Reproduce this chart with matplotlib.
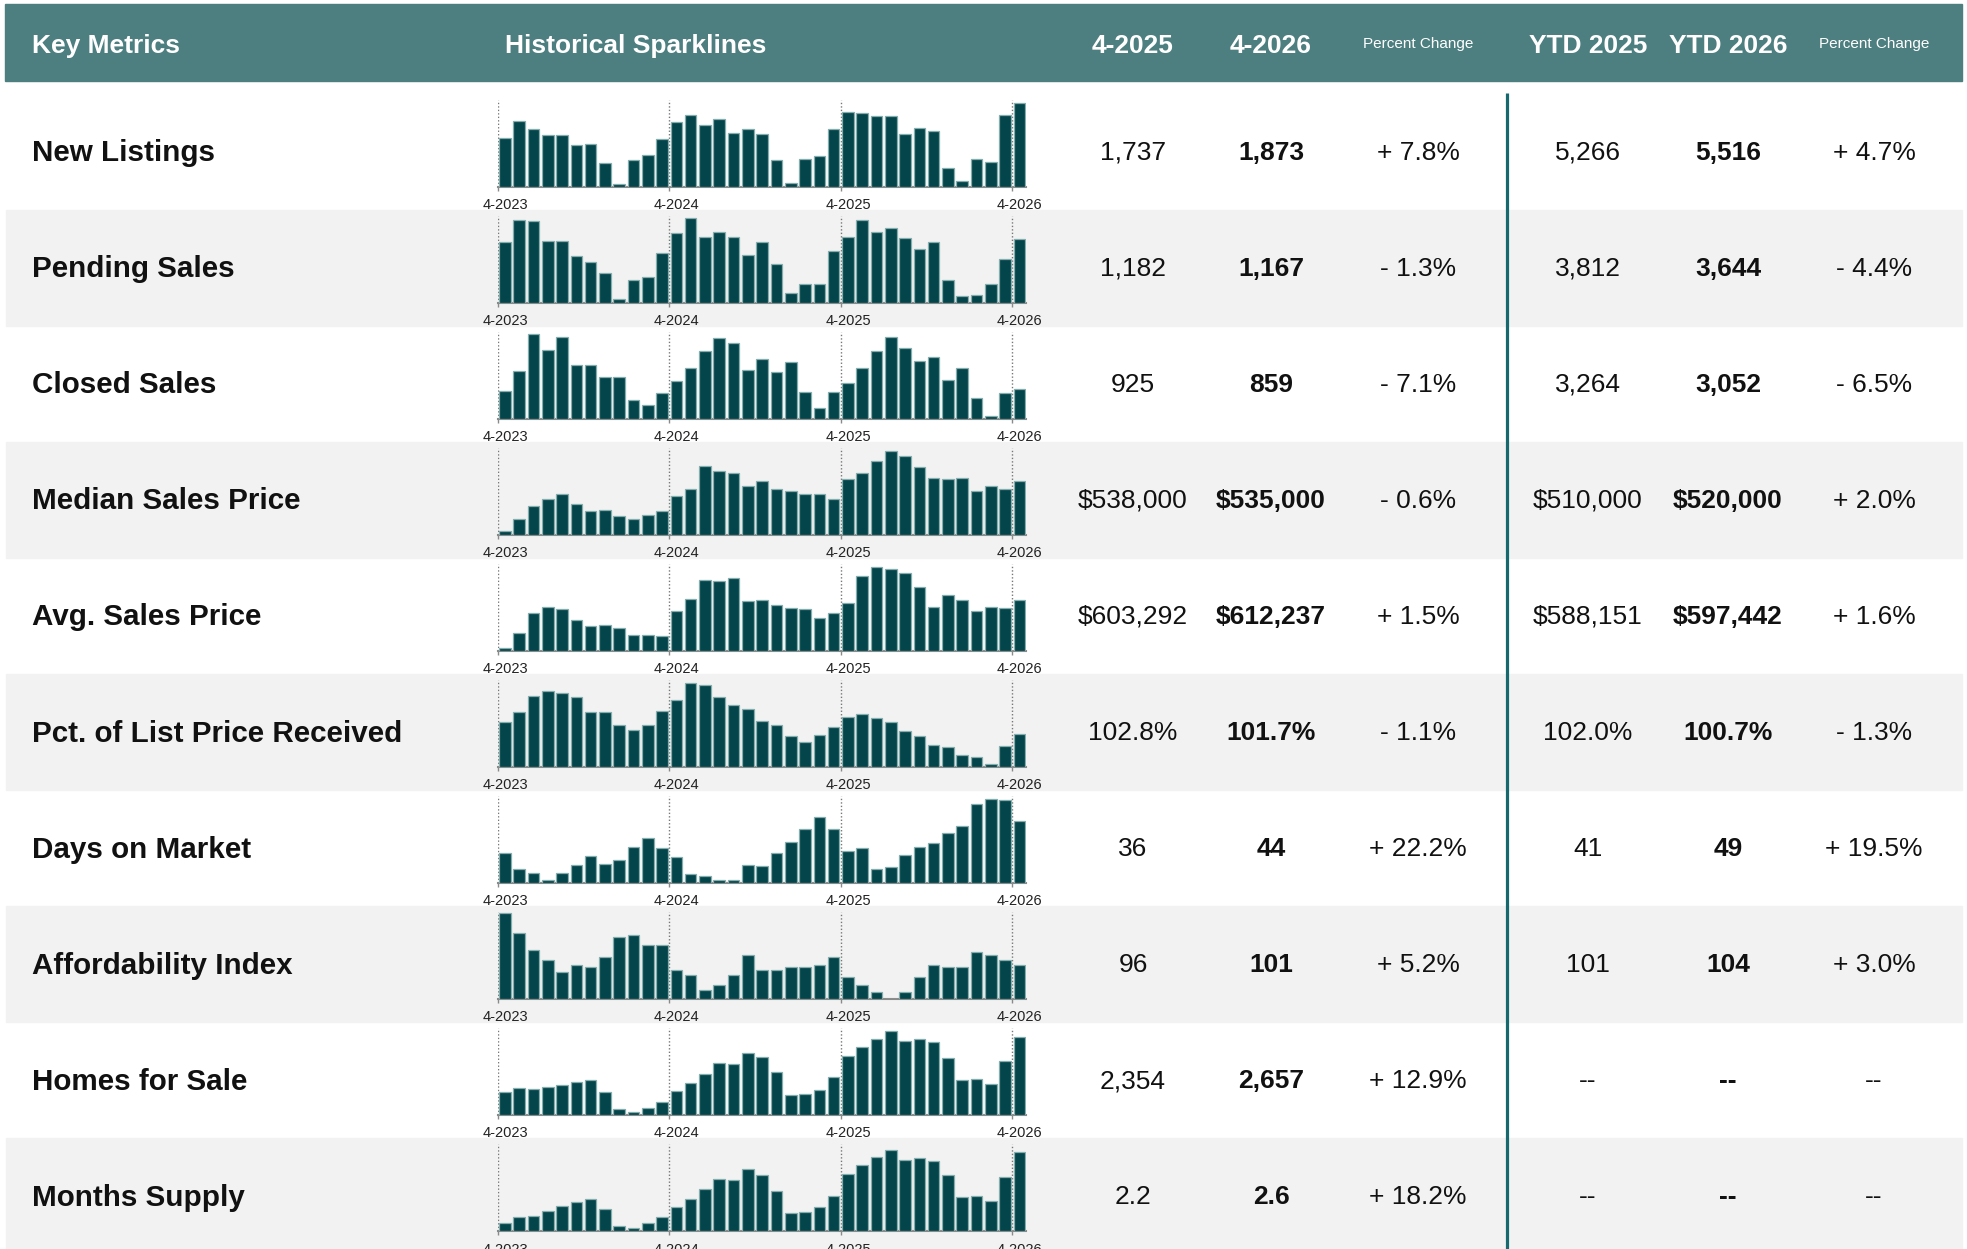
import numpy as np
import matplotlib
matplotlib.use("Agg")
import matplotlib.pyplot as plt
from matplotlib.patches import Rectangle

# --- table content ---
metrics = ["New Listings", "Pending Sales", "Closed Sales", "Median Sales Price",
           "Avg. Sales Price", "Pct. of List Price Received", "Days on Market",
           "Affordability Index", "Homes for Sale", "Months Supply"]
month_prior = ["1,737", "1,182", "925", "$538,000", "$603,292", "102.8%", "36", "96", "2,354", "2.2"]
month_current = ["1,873", "1,167", "859", "$535,000", "$612,237", "101.7%", "44", "101", "2,657", "2.6"]
month_pct = ["+ 7.8%", "- 1.3%", "- 7.1%", "- 0.6%", "+ 1.5%", "- 1.1%", "+ 22.2%", "+ 5.2%", "+ 12.9%", "+ 18.2%"]
ytd_prior = ["5,266", "3,812", "3,264", "$510,000", "$588,151", "102.0%", "41", "101", "--", "--"]
ytd_current = ["5,516", "3,644", "3,052", "$520,000", "$597,442", "100.7%", "49", "104", "--", "--"]
ytd_pct = ["+ 4.7%", "- 4.4%", "- 6.5%", "+ 2.0%", "+ 1.6%", "- 1.3%", "+ 19.5%", "+ 3.0%", "--", "--"]

tick_labels = ["4-2023", "4-2024", "4-2025", "4-2026"]

# sparkline bar heights, 4-2023 .. 4-2026 (relative height)
new_listings = [146, 196, 173, 156, 156, 126, 129, 72, 8, 79, 94, 142,
                194, 214, 184, 203, 162, 174, 159, 79, 11, 84, 92, 172,
                225, 222, 212, 211, 159, 177, 166, 57, 17, 83, 73, 216, 251]
pending_sales = [181, 250, 245, 186, 186, 141, 123, 88, 10, 68, 78, 150,
                 211, 254, 199, 213, 199, 142, 183, 115, 30, 55, 57, 154,
                 199, 250, 214, 224, 194, 162, 184, 68, 21, 24, 56, 131, 192]
closed_sales = [82, 143, 254, 206, 247, 162, 162, 127, 126, 55, 40, 76,
                115, 153, 204, 243, 227, 146, 181, 141, 170, 81, 32, 81,
                109, 153, 204, 246, 214, 173, 187, 116, 153, 63, 9, 78, 89]
median_price = [10, 48, 86, 108, 124, 93, 71, 74, 56, 48, 59, 71,
                116, 138, 207, 192, 185, 147, 162, 138, 131, 124, 124, 108,
                167, 186, 222, 253, 238, 203, 170, 167, 171, 131, 147, 138, 162]
avg_price = [8, 54, 114, 131, 125, 94, 74, 79, 70, 49, 49, 46,
             121, 155, 215, 210, 219, 149, 152, 139, 130, 126, 100, 113,
             143, 225, 252, 247, 236, 192, 131, 168, 154, 121, 131, 128, 154]
pct_list_price = [135, 165, 214, 228, 224, 210, 166, 166, 126, 110, 126, 168,
                  202, 252, 246, 210, 187, 174, 140, 125, 93, 75, 96, 119,
                  152, 159, 147, 136, 107, 93, 66, 61, 37, 30, 9, 64, 99]
days_on_market = [90, 43, 31, 10, 31, 55, 81, 58, 70, 109, 137, 107,
                  79, 27, 20, 10, 10, 54, 52, 91, 124, 164, 198, 164,
                  98, 105, 43, 48, 84, 109, 122, 152, 171, 238, 253, 250, 188]
affordability = [261, 200, 149, 118, 81, 104, 96, 126, 186, 194, 163, 163,
                 88, 73, 28, 43, 73, 134, 88, 88, 96, 96, 104, 126,
                 66, 43, 21, 0, 21, 66, 104, 96, 96, 141, 134, 118, 104]
homes_for_sale = [69, 81, 78, 84, 90, 100, 105, 71, 18, 10, 23, 41,
                  74, 98, 123, 156, 154, 187, 176, 129, 62, 64, 77, 114,
                  179, 206, 231, 254, 223, 231, 222, 174, 105, 108, 93, 164, 237]
months_supply = [25, 44, 47, 60, 76, 90, 99, 68, 17, 9, 24, 44,
                 74, 97, 129, 159, 154, 187, 171, 122, 56, 58, 72, 108,
                 174, 199, 223, 245, 215, 220, 212, 170, 103, 108, 93, 165, 239]

sparklines = [new_listings, pending_sales, closed_sales, median_price, avg_price,
              pct_list_price, days_on_market, affordability, homes_for_sale, months_supply]

# --- styling ---
HEAD_BG = "#4d7e80"
ROW_GREY = "#f2f2f2"
BAR = "#03454b"
BAR_EDGE = "#86adad"
DIVIDER = "#16696e"
NARROW = ["Liberation Sans Narrow", "Liberation Sans", "DejaVu Sans"]
SANS = ["Liberation Sans", "DejaVu Sans"]

W, H = 1967, 1249
fig = plt.figure(figsize=(W / 100, H / 100), dpi=100)
base = fig.add_axes([0, 0, 1, 1])
base.set_xlim(0, W)
base.set_ylim(H, 0)
base.axis("off")

row_top0 = 93.5
row_h = 116.1

# header band
base.add_patch(Rectangle((5, 4), 1957, 77, color=HEAD_BG, zorder=0))
hy = 45.5
base.text(32, hy, "Key Metrics", color="white", fontsize=19, fontweight="bold",
          family=NARROW, va="center", ha="left")
base.text(505, hy, "Historical Sparklines", color="white", fontsize=19, fontweight="bold",
          family=NARROW, va="center", ha="left")
col_x = [1133, 1271, 1418, 1588, 1728, 1874]
headers = ["4-2025", "4-2026", "Percent Change", "YTD 2025", "YTD 2026", "Percent Change"]
for x, h in zip(col_x, headers):
    if h == "Percent Change":
        base.text(x, hy - 2, h, color="white", fontsize=11, family=NARROW, va="center", ha="center")
    else:
        base.text(x, hy, h, color="white", fontsize=19, fontweight="bold",
                  family=NARROW, va="center", ha="center")

# rows
for i, name in enumerate(metrics):
    top = row_top0 + i * row_h
    if i % 2 == 1:
        base.add_patch(Rectangle((6, top), 1956, row_h, color=ROW_GREY, zorder=0))
    cy = top + 59.5
    base.text(32, cy, name, fontsize=21.3, fontweight="bold", family=SANS,
              va="center", ha="left", color="#111111")
    cells = [month_prior[i], month_current[i], month_pct[i],
             ytd_prior[i], ytd_current[i], ytd_pct[i]]
    for j, (x, c) in enumerate(zip(col_x, cells)):
        bold = j in (1, 4)
        base.text(x, cy - 0.5, c, fontsize=19, fontweight="bold" if bold else "normal",
                  family=NARROW, va="center", ha="center", color="#111111")

# divider between month and YTD columns
base.plot([1507, 1507], [93, H], color=DIVIDER, lw=2.3, solid_capstyle="butt")

# sparklines
ax_left, ax_right = 498, 1026
months = np.arange(37)
for i, vals in enumerate(sparklines):
    top = row_top0 + i * row_h
    y_top = top + 6
    y_bot = top + 93
    ax = fig.add_axes([ax_left / W, 1 - y_bot / H, (ax_right - ax_left) / W, (y_bot - y_top) / H])
    ax.patch.set_alpha(0)
    ax.bar(months + 0.08, vals, width=0.81, align="edge", color=BAR,
           edgecolor=BAR_EDGE, linewidth=0.9, zorder=3)
    ax.set_xlim(0, 36.95)
    ax.set_ylim(0, 262)
    for xv in (0, 12, 24, 36):
        ax.axvline(xv, color="#777777", lw=1, ls=(0, (1, 1.5)), zorder=2)
    for s in ("top", "right", "left"):
        ax.spines[s].set_visible(False)
    ax.spines["bottom"].set_color("#8a8a8a")
    ax.spines["bottom"].set_linewidth(1.5)
    ax.set_yticks([])
    ax.set_xticks([0.5, 12.5, 24.5, 36.5])
    ax.set_xticklabels(tick_labels, fontsize=10.5, family=SANS, color="#222222")
    ax.tick_params(axis="x", which="major", length=0, pad=8)
    ax.set_xticks([0, 12, 24, 36], minor=True)
    ax.tick_params(axis="x", which="minor", length=3, width=1, color="#8a8a8a")

fig.savefig("out.png", dpi=100)
